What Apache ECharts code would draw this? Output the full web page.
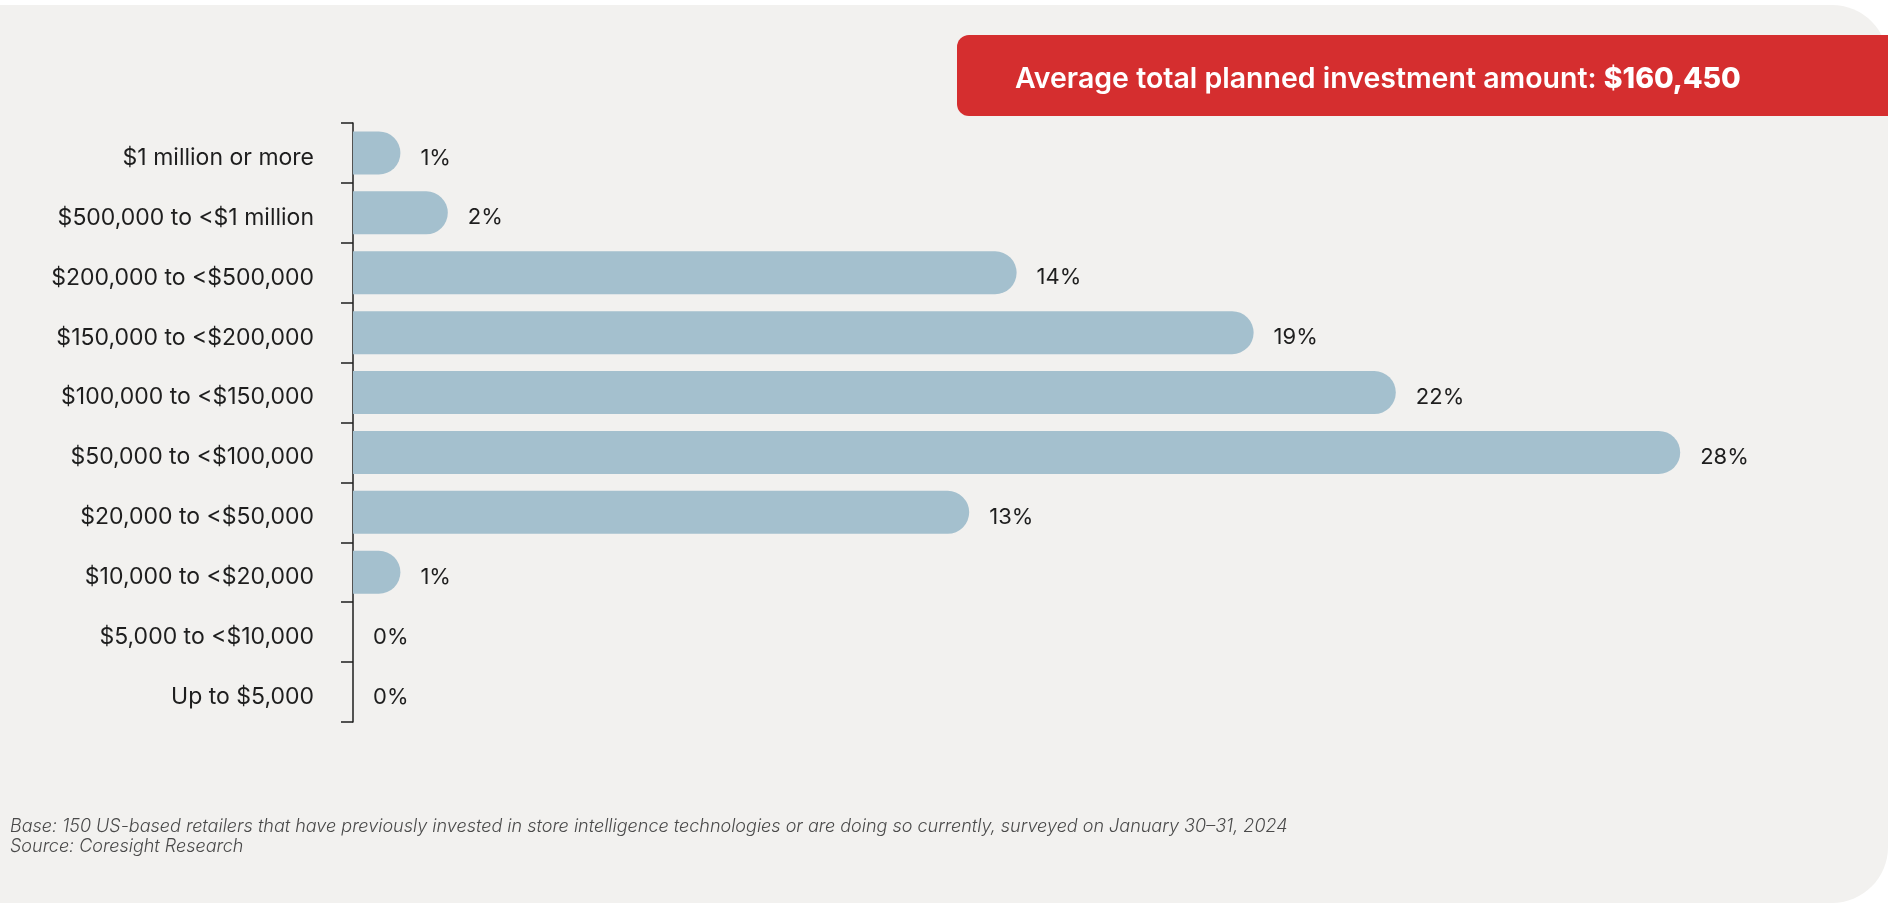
<!DOCTYPE html>
<html>
<head>
<meta charset="utf-8">
<script src="https://cdn.jsdelivr.net/npm/echarts@6/dist/echarts.min.js"></script>
<style>
  html, body { margin: 0; padding: 0; background: #ffffff; }
  #chart { width: 1888px; height: 904px; }
</style>
</head>
<body>
<div id="chart"></div>
<script>
// Planned investment ranges (top to bottom) and share of respondents (%)
const categories = [
  '$1 million or more',
  '$500,000 to <$1 million',
  '$200,000 to <$500,000',
  '$150,000 to <$200,000',
  '$100,000 to <$150,000',
  '$50,000 to <$100,000',
  '$20,000 to <$50,000',
  '$10,000 to <$20,000',
  '$5,000 to <$10,000',
  'Up to $5,000'
];
const shares = [1, 2, 14, 19, 22, 28, 13, 1, 0, 0];

const bannerLead = 'Average total planned investment amount: ';
const bannerValue = '$160,450';
const footnotes = [
  'Base: 150 US-based retailers that have previously invested in store intelligence technologies or are doing so currently, surveyed on January 30\u201331, 2024',
  'Source: Coresight Research'
];

const FONT = 'Inter, "Open Sans", sans-serif';

const chart = echarts.init(document.getElementById('chart'), null, { renderer: 'canvas' });

chart.setOption({
  backgroundColor: '#ffffff',
  animation: false,
  grid: { left: 353, top: 123, right: 113, bottom: 182, containLabel: false },
  xAxis: {
    type: 'value',
    min: 0,
    max: 30,
    show: false
  },
  yAxis: {
    type: 'category',
    data: categories,
    inverse: true,
    axisLine: { show: true, lineStyle: { color: '#1e1e1e', width: 1.5 } },
    axisTick: { show: true, length: 12, lineStyle: { color: '#1e1e1e', width: 1.5 } },
    axisLabel: {
      margin: 39,
      formatter: function (v) { return '{c|' + v + '}'; },
      rich: {
        c: {
          color: '#1e1e1e',
          fontSize: 23,
          fontFamily: FONT,
          padding: [10, 0, 0, 0]
        }
      }
    },
    splitLine: { show: false }
  },
  graphic: [
    {
      type: 'rect',
      z: -10,
      silent: true,
      shape: { x: -20, y: 5, width: 1908, height: 898, r: [0, 56, 56, 0] },
      style: { fill: '#f2f1ef' }
    },
    {
      type: 'rect',
      z: 5,
      silent: true,
      shape: { x: 957, y: 35, width: 940, height: 81, r: [12, 0, 0, 12] },
      style: { fill: '#d52e2f' }
    },
    {
      type: 'text',
      z: 6,
      silent: true,
      x: 1015,
      y: 79,
      style: {
        text: '{a|' + bannerLead + '}{b|' + bannerValue + '}',
        verticalAlign: 'middle',
        rich: {
          a: { fill: '#ffffff', fontSize: 28.5, fontWeight: 600, fontFamily: FONT },
          b: { fill: '#ffffff', fontSize: 28.5, fontWeight: 800, fontFamily: FONT }
        }
      }
    },
    {
      type: 'text',
      silent: true,
      x: 10,
      y: 827,
      style: {
        text: footnotes[0],
        fill: '#4a4a4a',
        fontSize: 18,
        fontStyle: 'italic',
        fontWeight: 300,
        fontFamily: FONT,
        verticalAlign: 'middle'
      }
    },
    {
      type: 'text',
      silent: true,
      x: 10,
      y: 847,
      style: {
        text: footnotes[1],
        fill: '#4a4a4a',
        fontSize: 18,
        fontStyle: 'italic',
        fontWeight: 300,
        fontFamily: FONT,
        verticalAlign: 'middle'
      }
    }
  ],
  series: [
    {
      type: 'bar',
      data: shares,
      barWidth: 43,
      itemStyle: { color: '#a4c0ce', borderRadius: [0, 22, 22, 0] },
      label: {
        show: true,
        position: 'right',
        distance: 20,
        offset: [0, 5],
        formatter: '{c}%',
        color: '#1e1e1e',
        fontSize: 22,
        fontFamily: FONT
      }
    }
  ]
});
</script>
</body>
</html>
